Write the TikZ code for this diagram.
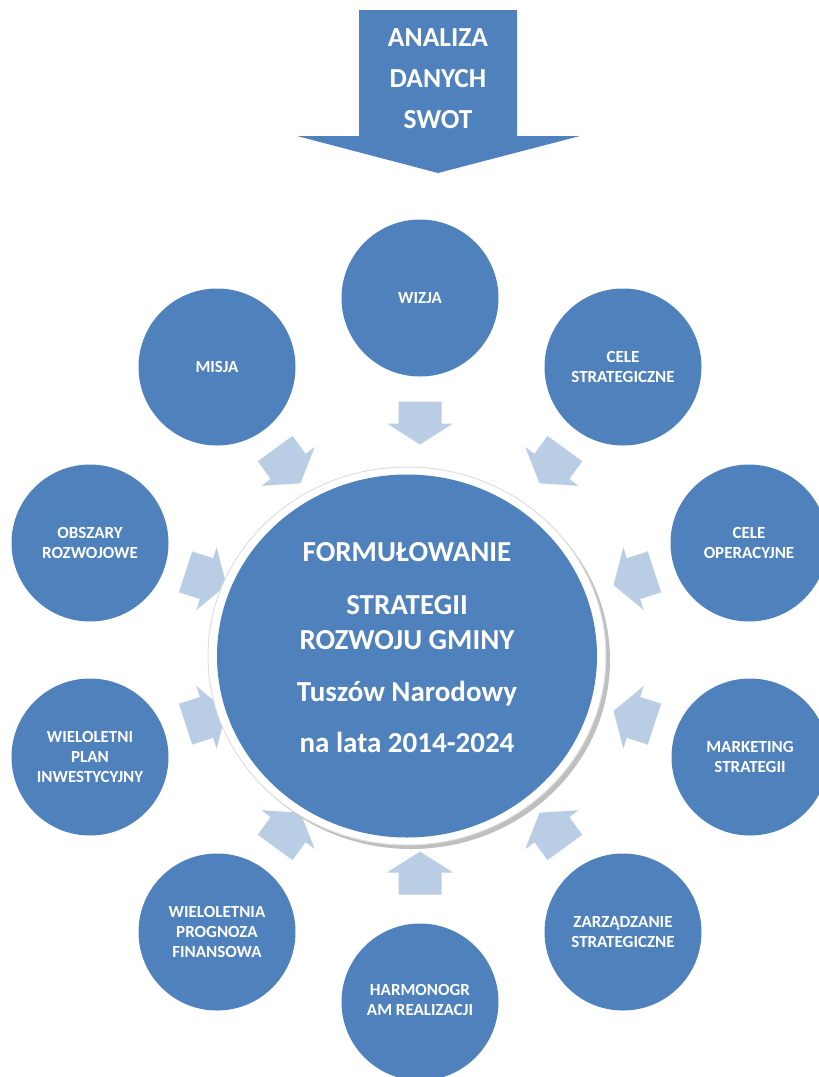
\documentclass[tikz,border=0pt]{standalone}
\usepackage{fontspec}
\setmainfont{Carlito}
\usetikzlibrary{shapes.geometric}
\definecolor{accblue}{HTML}{4F81BD}
\definecolor{lightarr}{HTML}{B9CDE5}
\begin{document}
\begin{tikzpicture}[x=1pt,y=1pt,
  satellite/.style={circle, fill=accblue, minimum size=157pt, inner sep=0pt,
    text=white, font=\bfseries\fontsize{17}{20}\selectfont, align=center},
  sattext/.style={text=white, font=\bfseries\fontsize{17}{20}\selectfont, align=center},
  ringarrow/.style={fill=lightarr}]
\useasboundingbox (0,0) rectangle (819,-1077);
% top arrow
\fill[accblue] (359,-10) -- (517,-10) -- (517,-136) -- (580,-136) -- (438,-173) -- (297,-136) -- (359,-136) -- cycle;
\node[text=white, font=\bfseries\fontsize{27.5}{41}\selectfont, align=center] (swot) at (438,-79) {ANALIZA\\DANYCH\\SWOT};
% small arrows
\foreach \t in {0,36,...,324}{
  \begin{scope}[shift={({420+225*sin(\t)},{-648+225*cos(\t)})}, rotate={-90-\t}]
    \fill[ringarrow] (-21.5,-21.5) -- (0.5,-21.5) -- (0.5,-33) -- (21.5,0) -- (0.5,33) -- (0.5,21.5) -- (-21.5,21.5) -- cycle;
  \end{scope}
}
% satellites
\node[satellite] (wizja) at (420,-298) {WIZJA};
\node[satellite] (celestr) at (623,-367) {CELE\\STRATEGICZNE};
\node[satellite] (celeop) at (749,-543) {CELE\\OPERACYJNE};
\node[satellite] (marketing) at (750,-757) {MARKETING\\STRATEGII};
\node[satellite] (zarz) at (623,-932) {ZARZĄDZANIE\\STRATEGICZNE};
\node[satellite] (harm) at (420,-1002) {};
\node[sattext] (harmtext) at (420,-1000) {HARMONOGR\\AM REALIZACJI};
\node[satellite] (wpf) at (217,-932) {WIELOLETNIA\\PROGNOZA\\FINANSOWA};
\node[satellite] (wpi) at (90,-757) {WIELOLETNI\\PLAN\\INWESTYCYJNY};
\node[satellite] (obszary) at (90,-543) {OBSZARY\\ROZWOJOWE};
\node[satellite] (misja) at (217,-367) {MISJA};
% central circle
\fill[gray!50] (411,-660) ellipse [x radius=199, y radius=189];
\filldraw[fill=white, draw=gray!25, line width=1pt] (407,-656) ellipse [x radius=199, y radius=189];
\node[ellipse, fill=accblue, minimum width=380pt, minimum height=363pt, inner sep=0pt] (center) at (407,-656) {};
\node[text=white, font=\bfseries\fontsize{29}{35}\selectfont, align=center, inner sep=0pt] (centertext) at (407,-647.5)
  {FORMUŁOWANIE\\[18pt]STRATEGII\\ROZWOJU GMINY\\[17pt]Tuszów Narodowy\\[16pt]na lata 2014-2024};
\end{tikzpicture}
\end{document}
